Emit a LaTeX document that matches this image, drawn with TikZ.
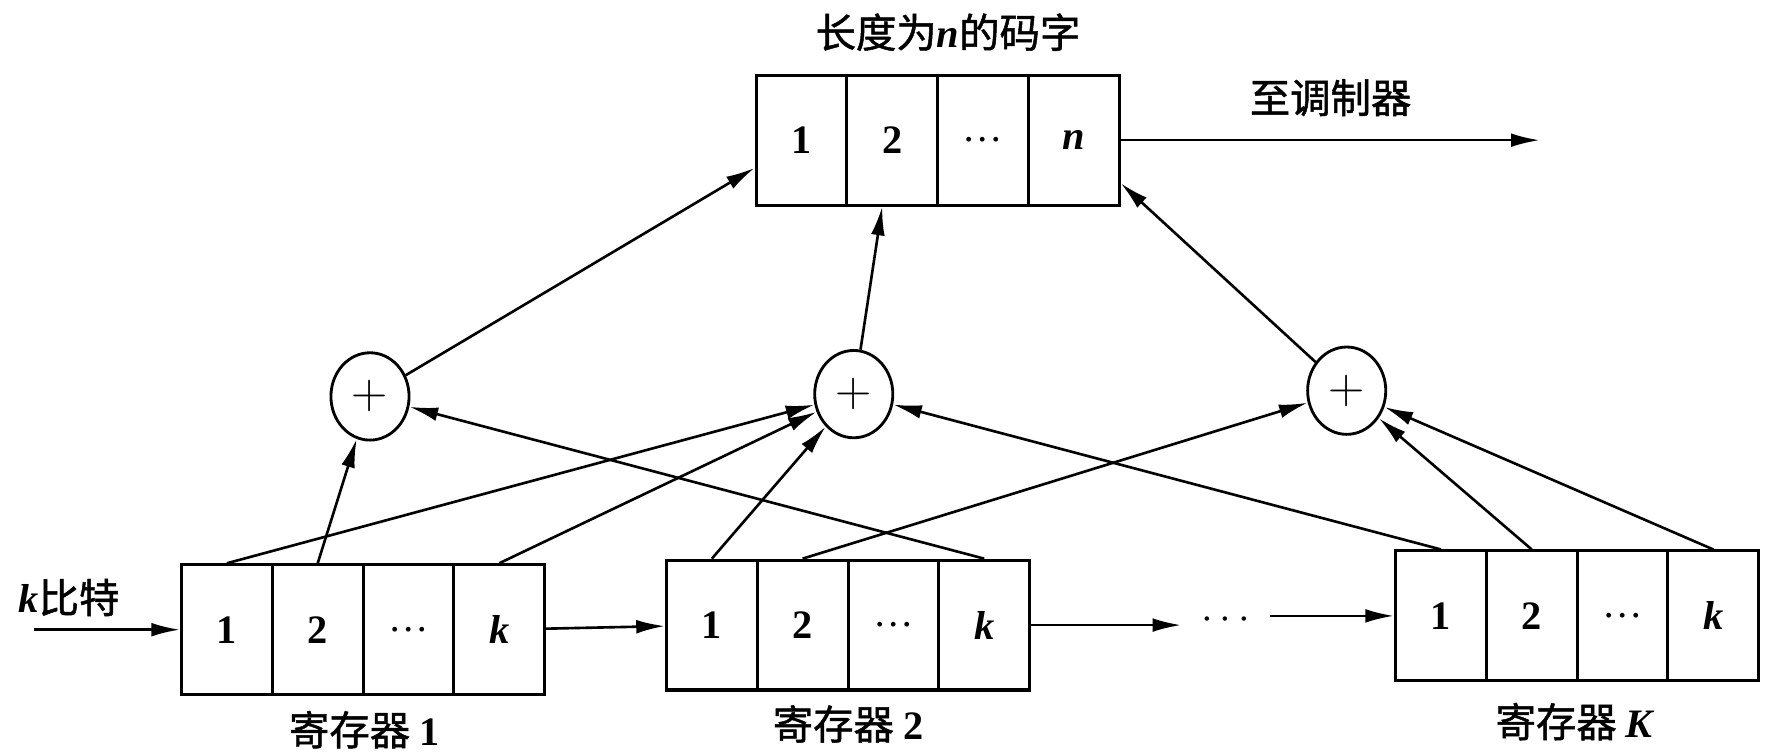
\documentclass[tikz,border=0pt]{standalone}
\usepackage{fontspec}
\setmainfont{Liberation Serif}
\newfontfamily\cjk{Noto Sans CJK SC}[FakeBold=1.2]
\newcommand{\bitvar}[1]{{\rmfamily\bfseries\itshape #1}}
\usetikzlibrary{arrows.meta,positioning,shapes.geometric}

\begin{document}
\begin{tikzpicture}[>={Latex[length=5mm,width=2.4mm]},node distance=1.58cm,on grid,
    line width=1.3pt,font=\fontsize{20}{24}\selectfont]
  \tikzstyle{cell}=[draw,line width=1.5pt,minimum width=1.58cm,minimum height=2.26cm,
    inner sep=0pt,font=\fontsize{20}{24}\selectfont\bfseries]
  \tikzstyle{adder}=[draw,ellipse,line width=1.4pt,minimum width=1.36cm,minimum height=1.52cm,
    inner sep=0pt,font=\fontsize{32}{34}\selectfont]
  \useasboundingbox (0,0) rectangle (30.86,13.1);

  % codeword register
  \node[cell] (w_1) at (13.95,10.66) {1};
  \node[cell] (w_2) [right=of w_1] {2};
  \node[cell] (w_3) [right=of w_2] {\mdseries\ldots};
  \node[cell] (w_4) [right=of w_3] {\bitvar{n}};
  \node (word) at (16.5,12.54) {\cjk 长度为\bitvar{n}的码字};
  \node (mod) at (23.16,11.4) {\cjk 至调制器};
  \coordinate (out) at (26.8,10.66);

  % shift registers
  \node[cell] (r1_1) at (3.95,2.14) {1};
  \node[cell] (r1_2) [right=of r1_1] {2};
  \node[cell] (r1_3) [right=of r1_2] {\mdseries\ldots};
  \node[cell] (r1_4) [right=of r1_3] {\bitvar{k}};

  \node[cell] (r2_1) at (12.39,2.22) {1};
  \node[cell] (r2_2) [right=of r2_1] {2};
  \node[cell] (r2_3) [right=of r2_2] {\mdseries\ldots};
  \node[cell] (r2_4) [right=of r2_3] {\bitvar{k}};

  \node[cell] (rK_1) at (25.08,2.38) {1};
  \node[cell] (rK_2) [right=of rK_1] {2};
  \node[cell] (rK_3) [right=of rK_2] {\mdseries\ldots};
  \node[cell] (rK_4) [right=of rK_3] {\bitvar{k}};

  \node (lab_1) at (6.34,0.4) {\cjk 寄存器 \rmfamily\bfseries 1};
  \node (lab_2) at (14.76,0.5) {\cjk 寄存器 \rmfamily\bfseries 2};
  \node (lab_K) at (27.4,0.54) {\cjk 寄存器 \bitvar{K}};

  \node (bits) at (1.2,2.7) {\bitvar{k}\cjk 比特};
  \coordinate (in) at (0.6,2.14);
  \coordinate (gap_l) at (20.56,2.22);
  \node (gap) at (21.33,2.3) {$\cdots$};
  \coordinate (gap_r) at (22.1,2.38);

  % modulo-2 adders
  \node[adder] (a_1) at (6.44,6.2) {$+$};
  \node[adder] (a_2) at (14.86,6.24) {$+$};
  \node[adder] (a_3) at (23.44,6.3) {$+$};

  \path[->]
  (in)   edge (r1_1)
  (r1_4) edge (r2_1)
  (r2_4) edge (gap_l)
  (gap_r) edge (rK_1)
  (w_4)  edge (out)
  (a_1)  edge (w_1)
  (a_2)  edge (w_2)
  (a_3)  edge (w_4)
  (r1_2.north) edge (a_1)
  (r2_4.north) edge (a_1)
  (r1_1.north) edge (a_2)
  (r1_4.north) edge (a_2)
  (r2_1.north) edge (a_2)
  (rK_1.north) edge (a_2)
  (r2_2.north) edge (a_3)
  (rK_2.north) edge (a_3)
  (rK_4.north) edge (a_3);
\end{tikzpicture}
\end{document}
